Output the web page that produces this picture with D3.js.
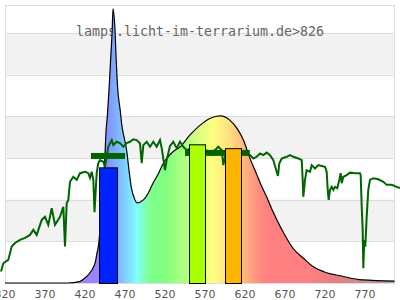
<!DOCTYPE html>
<html><head><meta charset="utf-8">
<script src="https://cdn.jsdelivr.net/npm/d3@7"></script>
<style>html,body{margin:0;padding:0;background:#fff;}svg{display:block;}</style>
</head><body>
<svg id="c" width="400" height="300"></svg>
<script>
// ---- data ----
const title = "lamps.licht-im-terrarium.de>826";
const xTicks = [320, 370, 420, 470, 520, 570, 620, 670, 720, 770];
const yGrid = [15, 30, 45, 60, 75, 90];
const bandRanges = [[75, 90], [45, 60], [15, 30]];

// lamp spectrum [nm, relative]
const lampNm = [320,399,413,420,426,430,433,435,437,440,442.5,445,446,448,450,452,454,455,457.5,459,461,464,466,469,472,475,478,482,485,493,499,505,512,518,524,530,539,551,564,576,589,601,610,618,626,635,639,647,655,664,672,680,693,705,722,739,767,807];
const lampVal = [0,0,0.5,1.8,3.6,5.4,7.6,10.8,13.7,24.5,35.3,46,53.2,60.4,69.4,80.2,91,98.6,91,80.2,69.4,62.2,56.8,52.2,47.8,40.6,34.2,30.2,28.8,29.9,32.3,35.9,39.5,43.1,45.4,47.2,49.0,53.2,56.8,59.2,60.1,58.6,55.6,51.4,45.0,38.8,36.0,31.0,25.6,20.3,16.1,12.5,8.9,5.9,3.7,2.6,1.1,0.7];

// sunlight reference spectrum [nm, relative]
const sunNm = [315,317.9,324.1,328.4,332.5,338.75,345,351.25,355.4,359.6,365.9,370,374.1,378.4,382.5,388.75,392.9,395,397.1,399.1,401.25,405.4,409.6,413.75,420,424.1,426.25,428.4,430.4,431.9,434.6,436.6,438.75,442.9,445,449.1,453.4,455.4,459.6,463.75,467.9,472.1,476.25,480.4,484.6,488.75,490.9,492.9,497.1,501.25,505.4,509.6,513.75,515.9,520,522.1,526.25,530.4,534.6,538.75,542.9,547.1,553.75,561.25,570,576.25,582.5,586.6,590.9,592.9,596.25,603.75,611.25,615.9,622.1,626.25,630.4,634.6,638.75,642.9,647.1,651.25,655.4,659.6,661.25,662.9,665.9,672.1,676.25,680.4,686.6,690.9,692.1,692.9,695,697.1,701.25,703.4,707.5,711.6,715.9,720,722.1,723.4,724.6,726.25,728.4,730.4,732.5,735.4,737.9,739.6,740.9,742.9,747.1,751.25,757.5,763.75,764.6,765.9,767.1,767.9,769.1,770.4,772.1,774.1,776.25,780.4,786.6,792.9,797.1,803.4,809.6,813.75];
const sunVal = [4.1,7.1,8.3,13.1,14.4,15.5,16.2,17.3,19.1,17.3,22.7,23.8,20.9,26.9,20.9,23.8,27.4,13.1,28.7,29.9,36.4,38.2,37.1,39.5,40.0,39.5,37.8,40.0,37.1,25.5,39.5,43.1,44.2,43.6,41.8,49.0,51.4,49.6,50.8,50.3,49.0,50.3,50.8,51.7,51.4,50.3,43.1,49.6,50.8,49.0,50.8,49.0,51.4,48.5,40.6,44.2,49.3,50.8,48.5,50.8,49.0,47.8,48.6,47.8,47.8,47.2,47.8,49.0,47.8,42.4,47.1,47.1,46.8,46.6,46.6,46.0,44.8,45.4,46.6,46.0,46.9,46.0,44.2,40.0,38.5,43.1,44.8,45.4,46.0,45.4,44.8,44.2,37.1,31.0,37.1,40.6,40.0,42.4,41.2,42.4,42.1,41.8,40.0,33.5,29.9,33.5,34.6,33.5,34.6,34.1,37.1,39.5,35.9,38.2,38.8,39.7,39.5,39.5,38.8,27.4,19.1,5.3,15.5,13.1,23.8,33.5,37.1,37.7,37.3,36.4,35.3,35.3,34.6,34.1];

// sunlight band averages [from nm, to nm, value]
const avgFrom = [427.5, 545];
const avgTo = [470, 626];
const avgVal = [45.7, 46.8];

// LED bars
const barFrom = [437.5, 550, 595];
const barTo = [460, 570, 615];
const barVal = [41.6, 49.9, 48.5];
const barColor = ["#0022ff", "#aaff00", "#ffb400"];

// spectral gradient stops
const gradNm = [380,430,450,465,485,500,520,545,565,580,600,615,635,650,700,740,808];
const gradCol = ["#a080ff","#a080ff","#8098ff","#80c0ff","#80ffff","#80ff90","#80ff80","#b0ff80","#e0ff80","#ffff80","#ffe080","#ffc080","#ff9080","#ff8080","#ff8080","#e08080","#b8a0a0"];

// ---- drawing ----
const svg = d3.select("#c");
const L = 5, R = 395, T = 5, B = 283;
const x = d3.scaleLinear().domain([320, 807.5]).range([L, R]);
const y = d3.scaleLinear().domain([0, 100]).range([B, T]);

// bands
svg.selectAll("rect.band").data(bandRanges).enter().append("rect")
  .attr("x", L).attr("width", R - L)
  .attr("y", d => y(d[1])).attr("height", d => y(d[0]) - y(d[1]))
  .attr("fill", "#f2f2f2");
// grid
svg.selectAll("line.grid").data(yGrid).enter().append("line")
  .attr("x1", L).attr("x2", R)
  .attr("y1", d => Math.round(y(d)) + 0.5).attr("y2", d => Math.round(y(d)) + 0.5)
  .attr("stroke", "#dddddd");
// frame
svg.append("rect").attr("x", L + 0.5).attr("y", T + 0.5)
  .attr("width", R - L - 1).attr("height", B - T)
  .attr("fill", "none").attr("stroke", "#dddddd");

// title
svg.append("text").attr("x", 200).attr("y", 36).attr("text-anchor", "middle")
  .attr("font-family", "DejaVu Sans Mono").attr("font-size", 13.3)
  .attr("fill", "#666").text(title);

// gradient
const defs = svg.append("defs");
const g = defs.append("linearGradient").attr("id", "spec")
  .attr("gradientUnits", "userSpaceOnUse")
  .attr("x1", x(gradNm[0])).attr("x2", x(gradNm[gradNm.length - 1])).attr("y1", 0).attr("y2", 0);
const gx0 = x(gradNm[0]), gx1 = x(gradNm[gradNm.length - 1]);
gradNm.forEach((n, i) => {
  g.append("stop").attr("offset", (x(n) - gx0) / (gx1 - gx0)).attr("stop-color", gradCol[i]);
});

const lamp = lampNm.map((n, i) => [n, lampVal[i]]);
svg.append("path").datum(lamp)
  .attr("d", d3.area().x(d => x(d[0])).y0(y(0)).y1(d => y(d[1])).curve(d3.curveMonotoneX))
  .attr("fill", "url(#spec)");
svg.append("path").datum(lamp)
  .attr("d", d3.line().x(d => x(d[0])).y(d => y(d[1])).curve(d3.curveMonotoneX))
  .attr("fill", "none").attr("stroke", "#000").attr("stroke-width", 1.2);

// sunlight line
const sun = sunNm.map((n, i) => [n, sunVal[i]]);
svg.append("path").datum(sun)
  .attr("d", d3.line().x(d => x(d[0])).y(d => y(d[1])))
  .attr("fill", "none").attr("stroke", "#006400").attr("stroke-width", 2);

// average bars
svg.selectAll("rect.avg").data(avgVal).enter().append("rect")
  .attr("x", (d, i) => x(avgFrom[i])).attr("width", (d, i) => x(avgTo[i]) - x(avgFrom[i]))
  .attr("y", d => y(d) - 3).attr("height", 6).attr("fill", "#006400");

// LED bars
svg.selectAll("rect.bar").data(barVal).enter().append("rect")
  .attr("x", (d, i) => x(barFrom[i]) + 0.5).attr("width", (d, i) => x(barTo[i]) - x(barFrom[i]))
  .attr("y", d => y(d) + 0.5).attr("height", d => y(0) - y(d))
  .attr("fill", (d, i) => barColor[i]).attr("stroke", "#000").attr("stroke-width", 1);

// x tick labels
svg.selectAll("text.tick").data(xTicks).enter().append("text")
  .attr("x", d => x(d)).attr("y", 298).attr("text-anchor", "middle")
  .attr("font-family", "DejaVu Sans").attr("font-size", 11)
  .attr("fill", "#555").text(d => d);
</script>
</body></html>
